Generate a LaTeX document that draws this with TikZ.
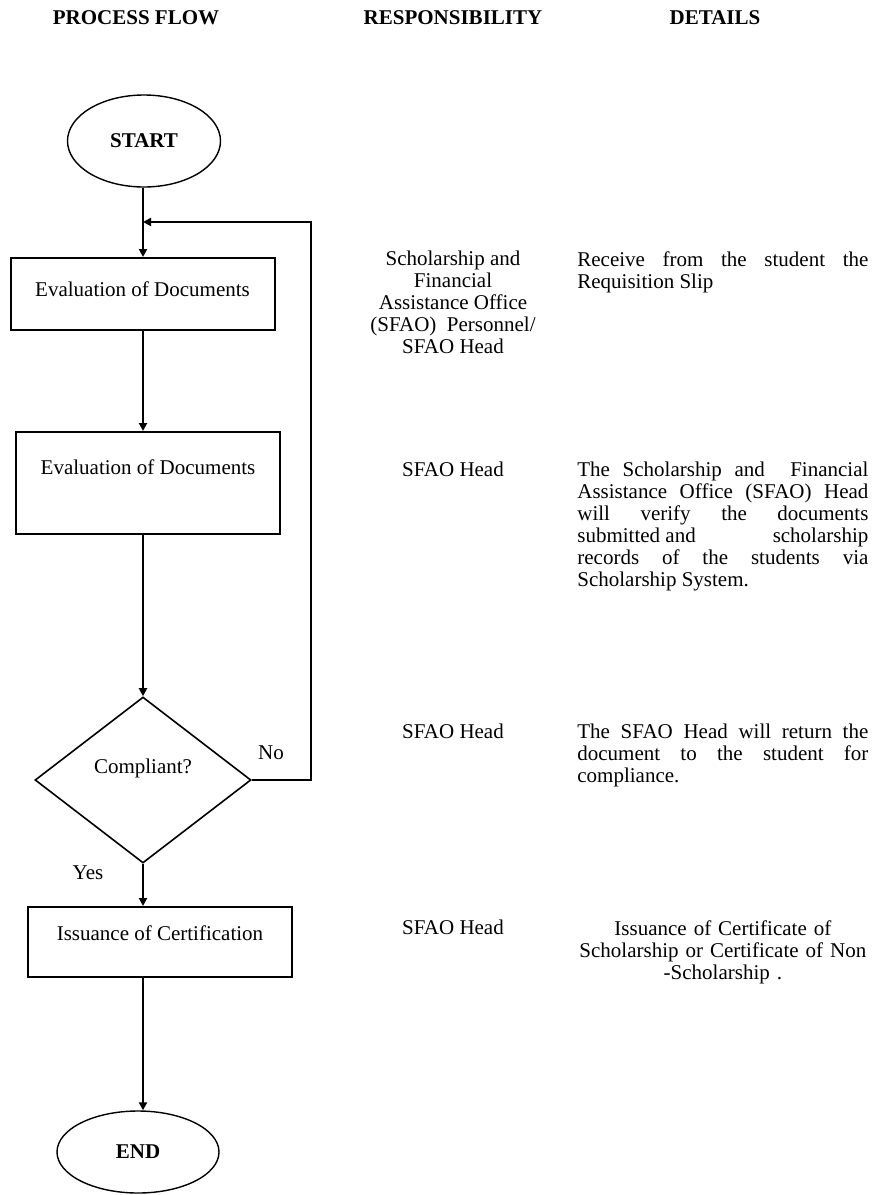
\documentclass[tikz,border=0pt]{standalone}
\usepackage{fontspec}
\setmainfont{Liberation Serif}
\usetikzlibrary{positioning,arrows.meta,shapes.geometric}
\newcommand\chartfont{\fontsize{10.5}{11}\selectfont}
\hbadness=10000

\begin{document}
\begin{tikzpicture}[x=0.5pt,y=-0.5pt,font=\chartfont,
   head/.style={font=\chartfont\bfseries,anchor=base,inner sep=0pt},
   stepbox/.style={draw,line width=1pt,minimum width=132pt,inner xsep=0pt,inner ysep=0pt,anchor=base},
   term/.style={draw,ellipse,line width=0.7pt,inner sep=0pt,font=\chartfont\bfseries},
   decision/.style={draw,diamond,line width=0.8pt,inner sep=0pt,minimum width=108pt,minimum height=83pt},
   who/.style={align=center,anchor=north,inner sep=0pt},
   what/.style={text width=145.5pt,align=justify,anchor=north west,inner sep=0pt},
   flow/.style={line width=1pt,-{Triangle[length=4pt,width=4pt]}}]
  \useasboundingbox (0,0) rectangle (877,1195);
  % column heads
  \node[head] (hflow) at (136,24) {PROCESS FLOW};
  \node[head] (hresp) at (453,24) {RESPONSIBILITY};
  \node[head] (hdet) at (715,24) {DETAILS};
  % process flow
  \coordinate (axis) at (143,0);
  \coordinate (loop) at (311,222);
  \node[term,minimum width=76.5pt,minimum height=46pt] (start) at (144,141) {START};
  \node[stepbox,text height=19pt,text depth=17pt] (eval1) at (142.5,296) {Evaluation of Documents};
  \node[stepbox,text height=21pt,text depth=30pt] (eval2) at (148,474) {Evaluation of Documents};
  \node[decision,text height=8pt,text depth=15pt] (comply) at (143,780) {Compliant?};
  \node[stepbox,text height=16.5pt,text depth=18.5pt] (issue) at (160,940) {Issuance of Certification};
  \node[term,minimum width=81pt,minimum height=41pt] (end) at (138,1152) {END};
  \draw[flow] (start.south -| axis) -- (eval1.north -| axis);
  \draw[flow] (eval1.south -| axis) -- (eval2.north -| axis);
  \draw[flow] (eval2.south -| axis) -- (comply.north);
  \draw[flow] (comply.south) -- (issue.north -| axis);
  \draw[flow] (issue.south -| axis) -- (end.north -| axis);
  \draw[flow] (comply.east) -- (comply.east -| loop) -- (loop) -- (loop -| axis);
  \node (no) at (271,753) {No};
  \node (yes) at (88,873) {Yes};
  % responsibility
  \node[who] (resp1) at (453,251) {Scholarship and\\Financial\\Assistance Office\\(SFAO)\ \ Personnel/\\SFAO Head};
  \node[who] (resp2) at (453,462) {SFAO Head};
  \node[who] (resp3) at (453,724) {SFAO Head};
  \node[who] (resp4) at (453,920) {SFAO Head};
  % details
  \node[what] (det1) at (577,251) {Receive from the student the\linebreak Requisition Slip};
  \node[what] (det2) at (577,462) {The Scholarship and \ Financial\linebreak
    Assistance Office (SFAO) Head\linebreak will verify the documents\linebreak
    submitted and\hfill scholarship\linebreak records of the students via\linebreak
    Scholarship System.};
  \node[what] (det3) at (577,724) {The SFAO Head will return the\linebreak
    document to the student for\linebreak compliance.};
  \node[what,align=center] (det4) at (577,920) {Issuance of Certificate of\\
    Scholarship or Certificate of Non\\-Scholarship .};
\end{tikzpicture}
\end{document}
